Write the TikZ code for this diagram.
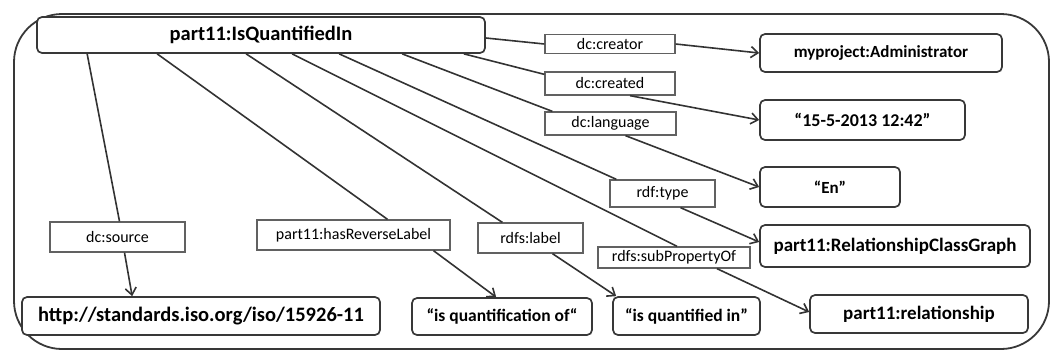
\documentclass[tikz,border=0pt]{standalone}
\usepackage{fontspec}
\setmainfont{Carlito}
\usetikzlibrary{arrows.meta,calc}
\begin{document}
\begin{tikzpicture}[x=1pt,y=-1pt,
  box/.style={draw=black!78,line width=1.7pt,rounded corners=5pt,fill=white,inner sep=0pt,font=\bfseries},
  lab/.style={draw=black!62,line width=1.3pt,fill=white,inner sep=0pt,font=\fontsize{16}{18}\selectfont},
  conn/.style={draw=black!80,line width=1.6pt},
  arr/.style={conn,-{Straight Barb[length=7pt,width=11pt,line width=1.6pt]}},
  outer/.style={draw=black!78,line width=1.8pt,rounded corners=48pt}]
\useasboundingbox (0,0) rectangle (1051,351);
\draw[outer] (14,14) rectangle (1049,349);
% nodes
\node[box,minimum width=448pt,minimum height=36pt,font=\bfseries\fontsize{20.5}{23}\selectfont] (main) at (261,35) {part11:IsQuantifiedIn};
\node[box,minimum width=242pt,minimum height=38pt,font=\bfseries\fontsize{17}{20}\selectfont] (admin) at (881,53) {myproject:Administrator};
\node[box,minimum width=205pt,minimum height=40pt,font=\bfseries\fontsize{18}{20}\selectfont] (date) at (862.5,120) {“15-5-2013 12:42”};
\node[box,minimum width=140pt,minimum height=40pt,font=\bfseries\fontsize{17}{20}\selectfont] (en) at (830,187) {“En”};
\node[box,minimum width=270pt,minimum height=42pt,font=\bfseries\fontsize{19}{22}\selectfont] (rcg) at (895,246) {part11:RelationshipClassGraph};
\node[box,minimum width=218pt,minimum height=38pt,font=\bfseries\fontsize{19}{22}\selectfont] (rel) at (919,314) {part11:relationship};
\node[box,minimum width=147pt,minimum height=38pt,font=\bfseries\fontsize{17.5}{20}\selectfont] (isin) at (686.5,316) {“is quantified in”};
\node[box,minimum width=180pt,minimum height=37pt,font=\bfseries\fontsize{17.5}{20}\selectfont] (isof) at (502,316.5) {“is quantification of“};
\node[box,minimum width=358pt,minimum height=38pt,font=\bfseries\fontsize{20.5}{23}\selectfont] (http) at (201,316) {http://standards.iso.org/iso/15926-11};
% labels
\node[lab,minimum width=130pt,minimum height=19pt] (creator) at (610,44) {dc:creator};
\node[lab,minimum width=130pt,minimum height=23pt] (created) at (610,83.5) {dc:created};
\node[lab,minimum width=131pt,minimum height=23pt] (language) at (610.5,123.5) {dc:language};
\node[lab,minimum width=105pt,minimum height=27pt] (type) at (662.5,193.5) {rdf:type};
\node[lab,minimum width=152pt,minimum height=21pt] (subprop) at (674,257.5) {rdfs:subPropertyOf};
\node[lab,minimum width=105pt,minimum height=30pt] (rdfslabel) at (530.5,238) {rdfs:label};
\node[lab,minimum width=193pt,minimum height=30pt] (hasrev) at (353.5,235) {part11:hasReverseLabel};
\node[lab,minimum width=135pt,minimum height=30pt] (source) at (117.5,237) {dc:source};
% connectors: main -> label
\draw[conn] ($(main.east)+(0,3)$) -- (creator.west);
\draw[conn] ($(main.south east)+(-22,0)$) -- ($(created.north west)+(0,3)$);
\draw[conn] ($(main.south west)+(366,0)$) -- ($(language.north west)+(8,0)$);
\draw[conn] ($(main.south west)+(303,0)$) -- ($(type.north west)+(7,0)$);
\draw[conn] ($(main.south west)+(256,0)$) -- ($(subprop.north)+(3,0)$);
\draw[conn] ($(main.south west)+(210,0)$) -- ($(rdfslabel.north west)+(25,0)$);
\draw[conn] ($(main.south west)+(121,0)$) -- ($(hasrev.north)+(34,0)$);
\draw[conn] ($(main.south west)+(51,0)$) -- ($(source.north)+(2,0)$);
% connectors: label -> target
\draw[arr] (creator.east) -- (admin.west);
\draw[arr] ($(created.south)+(20,0)$) -- (date.west);
\draw[arr] ($(language.south)+(15,0)$) -- (en.west);
\draw[arr] ($(type.south)+(18,0)$) -- ($(rcg.west)+(0,-4)$);
\draw[arr] ($(subprop.south)+(43,0)$) -- ($(rel.west)+(0,-2)$);
\draw[arr] ($(rdfslabel.south)+(22,0)$) -- ($(isin.north west)+(4,0)$);
\draw[arr] ($(hasrev.south)+(80,0)$) -- ($(isof.north west)+(85,0)$);
\draw[arr] ($(source.south)+(7,0)$) -- ($(http.north west)+(111,0)$);
\end{tikzpicture}
\end{document}
